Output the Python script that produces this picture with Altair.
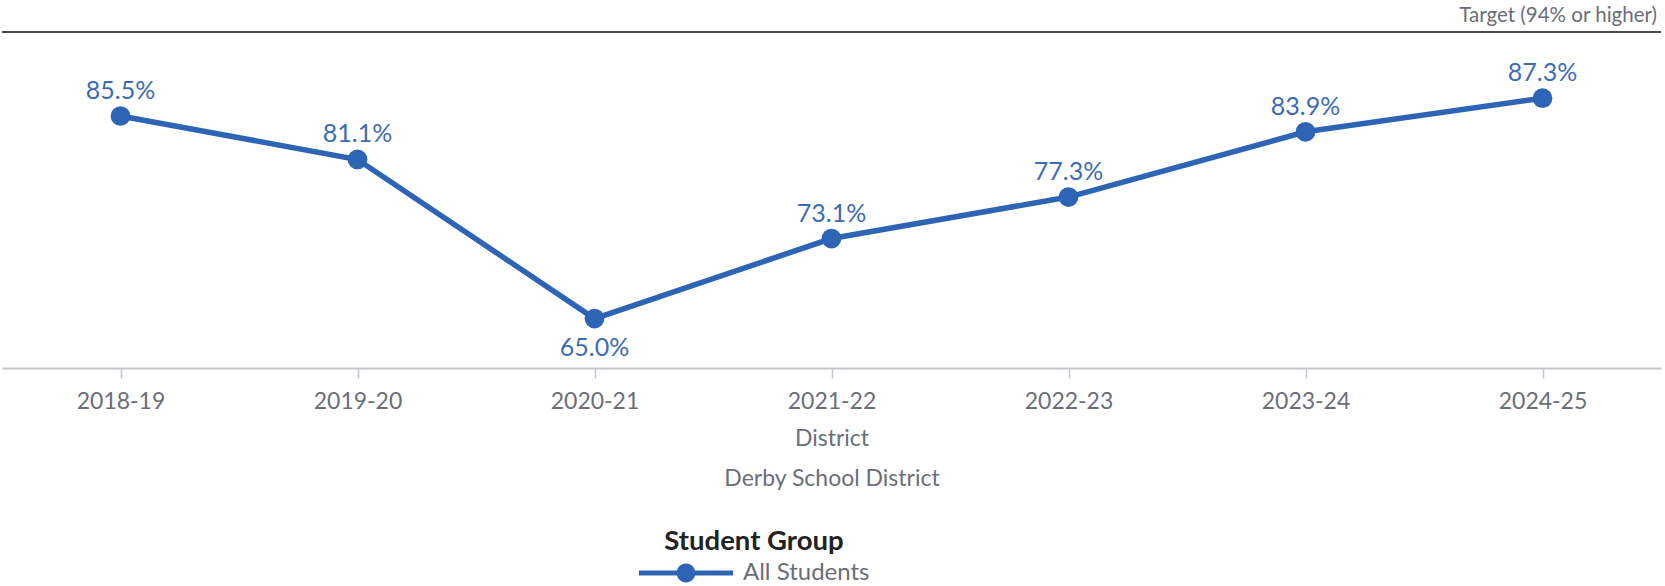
import altair as alt
import pandas as pd

# School years and the share of all students meeting the measure
years = ["2018-19", "2019-20", "2020-21", "2021-22", "2022-23", "2023-24", "2024-25"]
rates = [85.5, 81.1, 65.0, 73.1, 77.3, 83.9, 87.3]
label_below = [False, False, True, False, False, False, False]
group = "All Students"
target_value = 94
target_text = "Target (94% or higher)"

FONT = "Lato"
BLUE = "#2e64b5"
LABEL_BLUE = "#3d6cb6"
GRAY = "#6b6e78"
Y_SCALE = alt.Scale(domain=[60, 94], nice=False, zero=False)

df = pd.DataFrame({
    "year": years,
    "rate": rates,
    "label": [f"{r:.1f}%" for r in rates],
    "below": label_below,
    "group": [group] * len(years),
})

x = alt.X(
    "year:N",
    sort=years,
    scale=alt.Scale(type="point", padding=0.5),
    axis=alt.Axis(
        title=["District", "Derby School District"],
        titleFont=FONT,
        titleFontSize=23,
        titleFontWeight="normal",
        titleColor=GRAY,
        titleLineHeight=40,
        titlePadding=14,
        labelFont=FONT,
        labelFontSize=23,
        labelColor=GRAY,
        labelAngle=0,
        labelPadding=12,
        domainColor="#c4c6cc",
        domainWidth=2,
        tickColor="#c4c6cc",
        tickSize=10,
        tickWidth=1.5,
        grid=False,
    ),
)
y = alt.Y("rate:Q", scale=Y_SCALE, axis=None)

# line with a dot in the middle, drawn as one filled path
legend_symbol = (
    "M-1,-0.055 H1 V0.055 H-1 Z "
    "M0.2,0 A0.2,0.2 0 1,1 -0.2,0 A0.2,0.2 0 1,1 0.2,0 Z"
)

color = alt.Color(
    "group:N",
    scale=alt.Scale(domain=[group], range=[BLUE]),
    legend=alt.Legend(
        title="Student Group",
        orient="none",
        legendX=637,
        legendY=496,
        titleFont=FONT,
        titleFontSize=27.5,
        titleFontWeight="bold",
        titleColor="#222222",
        titleAnchor="middle",
        titlePadding=4,
        labelFont=FONT,
        labelFontSize=24,
        labelColor=GRAY,
        labelOffset=10,
        symbolType=legend_symbol,
        symbolSize=8836,
        symbolStrokeWidth=0,
        symbolOpacity=1,
        clipHeight=27,
    ),
)

base = alt.Chart(df)

line = base.mark_line(strokeWidth=5.5).encode(x=x, y=y, color=color)
points = base.mark_circle(size=390, opacity=1).encode(
    x=x, y=y,
    color=alt.Color("group:N", legend=None, scale=alt.Scale(domain=[group], range=[BLUE])),
)

labels_above = base.transform_filter("!datum.below").mark_text(
    font=FONT, fontSize=25, color=LABEL_BLUE, dy=-25, baseline="middle"
).encode(x=x, y=y, text="label:N")
labels_below = base.transform_filter("datum.below").mark_text(
    font=FONT, fontSize=25, color=LABEL_BLUE, dy=29, baseline="middle"
).encode(x=x, y=y, text="label:N")

target_df = pd.DataFrame({"value": [target_value], "text": [target_text]})
target_rule = alt.Chart(target_df).mark_rule(color="#4a4a4a", strokeWidth=2).encode(
    y=alt.Y("value:Q", scale=Y_SCALE, axis=None)
)
target_label = alt.Chart(target_df).mark_text(
    font=FONT, fontSize=20.5, color=GRAY, align="right", baseline="bottom", dy=-6
).encode(
    x=alt.value(1655),
    y=alt.Y("value:Q", scale=Y_SCALE, axis=None),
    text="text:N",
)

chart = (
    alt.layer(target_rule, target_label, line, points, labels_above, labels_below)
    .properties(
        width=1659,
        height=336,
        padding={"left": 2, "top": 32, "right": 4, "bottom": 218},
        autosize=alt.AutoSizeParams(type="none"),
        background="white",
    )
    .configure_view(stroke=None)
)

chart.save("out.html", embed_options={"renderer": "svg", "actions": False})
